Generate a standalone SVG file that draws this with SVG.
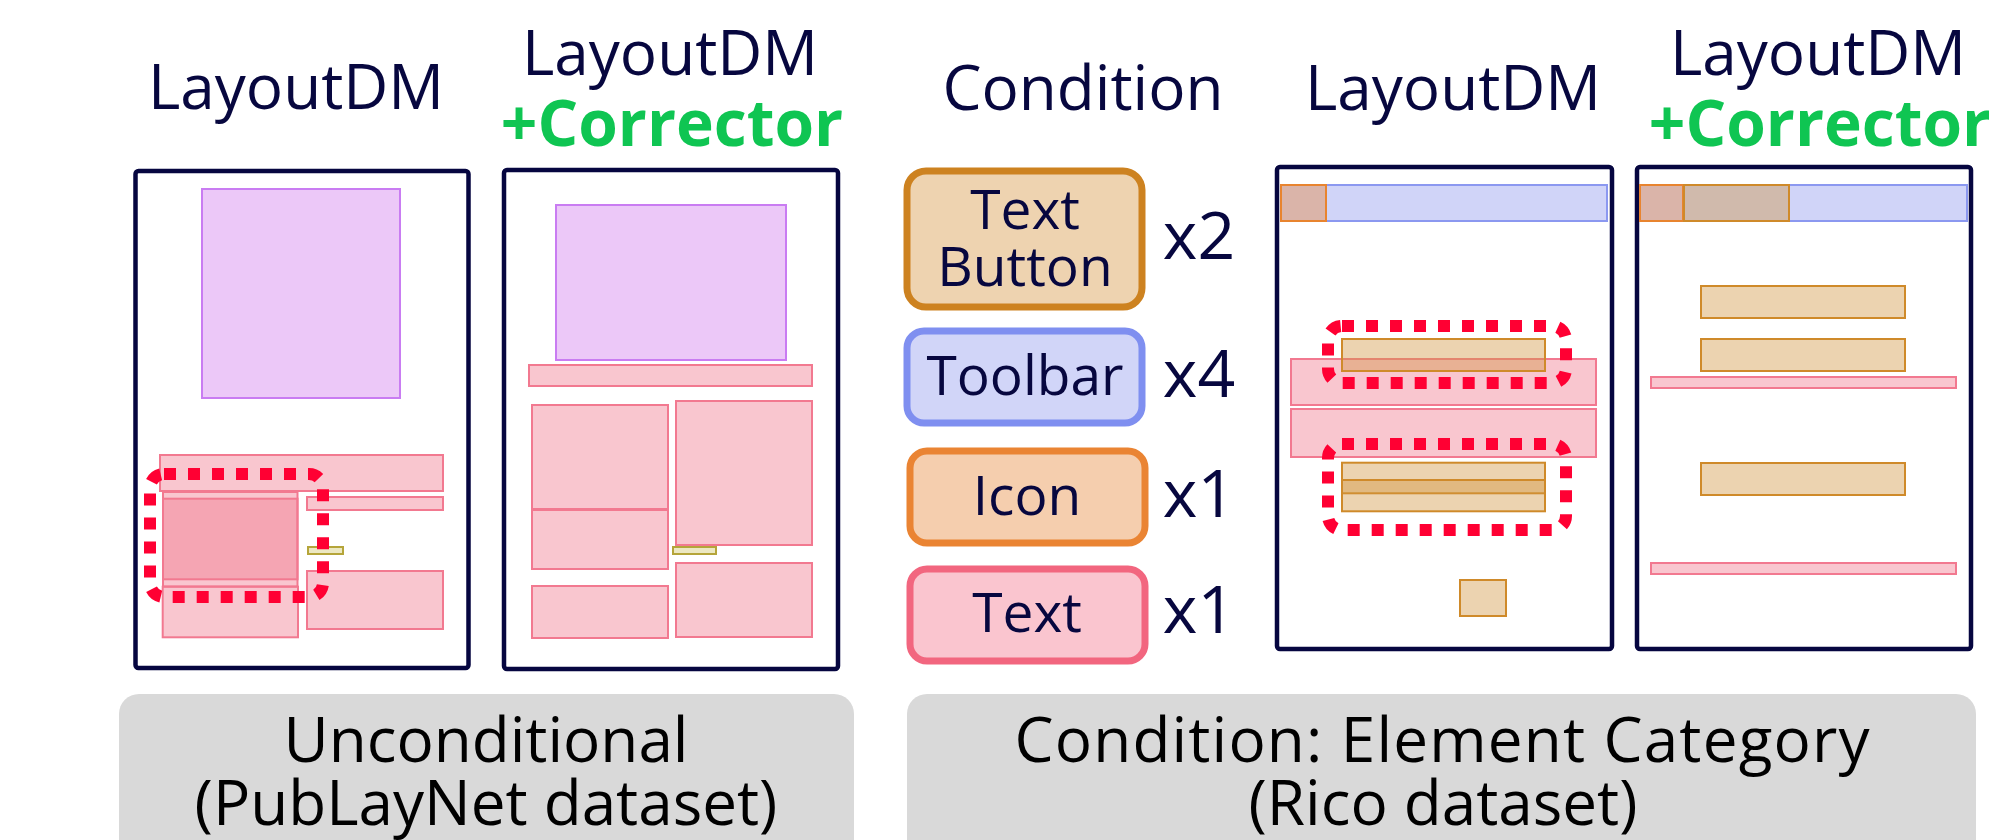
<svg xmlns="http://www.w3.org/2000/svg" width="1989" height="840" viewBox="0 0 1989 840">
<style>
.t{font-family:"Open Sans","Noto Sans","Liberation Sans",sans-serif;fill:#07073f;text-anchor:middle}
.title{font-size:62px}
.corr{font-size:64px;font-weight:bold;fill:#0fc552}
.lbl{font-size:55px}
.cnt{font-size:66px}
.cap{font-size:62px;fill:#000}
.frame{fill:#fff;stroke:#060640;stroke-width:4.5}
.pink{fill:rgb(241,119,141);fill-opacity:0.42;stroke:#f27990;stroke-width:2}
.purple{fill:#ecc8f8;stroke:#c97cf2;stroke-width:2}
.olive{fill:rgb(200,190,80);fill-opacity:0.35;stroke:#b5a53a;stroke-width:2}
.tan{fill:rgb(209,148,62);fill-opacity:0.41;stroke:#cf8a2a;stroke-width:2}
.blue{fill:#d0d4f8;stroke:#8b98f0;stroke-width:2}
.icon{fill:rgb(232,132,50);fill-opacity:0.4;stroke:#e8842f;stroke-width:2}
.dot{fill:none;stroke:#ff0033;stroke-width:12;stroke-dasharray:12 12}
.panel{fill:#d9d9d9}
</style>

<g id="titles">
<text class="t title" x="296" y="109">LayoutDM</text>
<text class="t title" x="670" y="75">LayoutDM</text>
<text class="t corr" x="672" y="146">+Corrector</text>
<text class="t title" x="1083" y="110">Condition</text>
<text class="t title" x="1453" y="110">LayoutDM</text>
<text class="t title" x="1818" y="75">LayoutDM</text>
<text class="t corr" x="1820" y="146">+Corrector</text>
</g>

<g id="layout-uncond-dm">
<rect class="frame" x="135.5" y="171" width="333" height="497" rx="3"/>
<rect class="purple" x="202" y="189" width="198" height="209"/>
<rect class="pink" x="160" y="455" width="283" height="36"/>
<rect class="pink" x="163" y="492" width="134.5" height="94.5"/>
<rect class="pink" x="163" y="498.7" width="134.5" height="80.6"/>
<rect class="pink" x="162.7" y="586.7" width="135.3" height="50.6"/>
<rect class="pink" x="307" y="497" width="136" height="13"/>
<rect class="olive" x="308" y="547" width="35" height="7"/>
<rect class="pink" x="307" y="571" width="136" height="58"/>
<rect class="dot" x="150" y="474" width="173" height="123" rx="14"/>
</g>

<g id="layout-uncond-corrector">
<rect class="frame" x="504" y="170" width="334" height="499" rx="3"/>
<rect class="purple" x="556" y="205" width="230" height="155"/>
<rect class="pink" x="529" y="365" width="283" height="21"/>
<rect class="pink" x="532" y="405" width="136" height="104"/>
<rect class="pink" x="532" y="510" width="136" height="59"/>
<rect class="pink" x="532" y="586" width="136" height="52"/>
<rect class="pink" x="676" y="401" width="136" height="144"/>
<rect class="olive" x="673" y="547" width="43" height="7"/>
<rect class="pink" x="676" y="563" width="136" height="74"/>
</g>

<g id="cond-textbutton">
<rect x="907" y="171" width="235" height="136" rx="19" fill="#eed3b0" stroke="#cd8220" stroke-width="7"/>
<text class="t lbl" x="1025" y="229">Text</text>
<text class="t lbl" x="1025" y="286">Button</text>
<text class="t cnt" x="1199" y="259">x2</text>
</g>

<g id="cond-toolbar">
<rect x="907" y="331" width="235" height="92" rx="17" fill="#d1d5f8" stroke="#7f8ff0" stroke-width="7"/>
<text class="t lbl" x="1025" y="395">Toolbar</text>
<text class="t cnt" x="1199" y="397">x4</text>
</g>

<g id="cond-icon">
<rect x="910" y="451" width="235" height="92" rx="17" fill="#f5ceae" stroke="#ea8433" stroke-width="7"/>
<text class="t lbl" x="1027" y="515">Icon</text>
<text class="t cnt" x="1199" y="517">x1</text>
</g>

<g id="cond-text">
<rect x="910" y="569" width="235" height="92" rx="17" fill="#fac5cf" stroke="#f2667f" stroke-width="7"/>
<text class="t lbl" x="1027" y="632">Text</text>
<text class="t cnt" x="1199" y="633">x1</text>
</g>

<g id="layout-cat-dm">
<rect class="frame" x="1277" y="167" width="335" height="482" rx="3"/>
<rect class="blue" x="1281" y="185" width="326" height="36"/>
<rect class="icon" x="1281" y="185" width="45" height="36"/>
<rect class="pink" x="1291" y="359" width="305" height="46"/>
<rect class="pink" x="1291" y="409" width="305" height="48"/>
<rect class="tan" x="1342" y="339" width="203" height="32"/>
<rect class="tan" x="1342" y="462.7" width="203" height="30.6"/>
<rect class="tan" x="1342" y="480" width="203" height="31.3"/>
<rect class="tan" x="1460" y="580" width="46" height="36"/>
<rect class="dot" x="1328" y="326" width="238" height="57" rx="14"/>
<rect class="dot" x="1328" y="444" width="238" height="86" rx="14"/>
</g>

<g id="layout-cat-corrector">
<rect class="frame" x="1637" y="167" width="334" height="482" rx="3"/>
<rect class="blue" x="1640" y="185" width="327" height="36"/>
<rect class="icon" x="1640" y="185" width="43" height="36"/>
<rect class="tan" x="1684" y="185" width="105" height="36"/>
<rect class="tan" x="1701" y="286" width="204" height="32"/>
<rect class="tan" x="1701" y="339" width="204" height="32"/>
<rect class="pink" x="1651" y="377" width="305" height="11"/>
<rect class="tan" x="1701" y="463" width="204" height="32"/>
<rect class="pink" x="1651" y="563" width="305" height="11"/>
</g>

<g id="caption-uncond">
<rect class="panel" x="119" y="694" width="735" height="180" rx="20"/>
<text class="t cap" x="486" y="762">Unconditional</text>
<text class="t cap" x="486" y="825">(PubLayNet dataset)</text>
</g>

<g id="caption-cat">
<rect class="panel" x="907" y="694" width="1069" height="180" rx="20"/>
<text class="t cap" x="1442" y="762" textLength="855" lengthAdjust="spacing">Condition: Element Category</text>
<text class="t cap" x="1443" y="825">(Rico dataset)</text>
</g>

<g id="connectors"/>
</svg>
